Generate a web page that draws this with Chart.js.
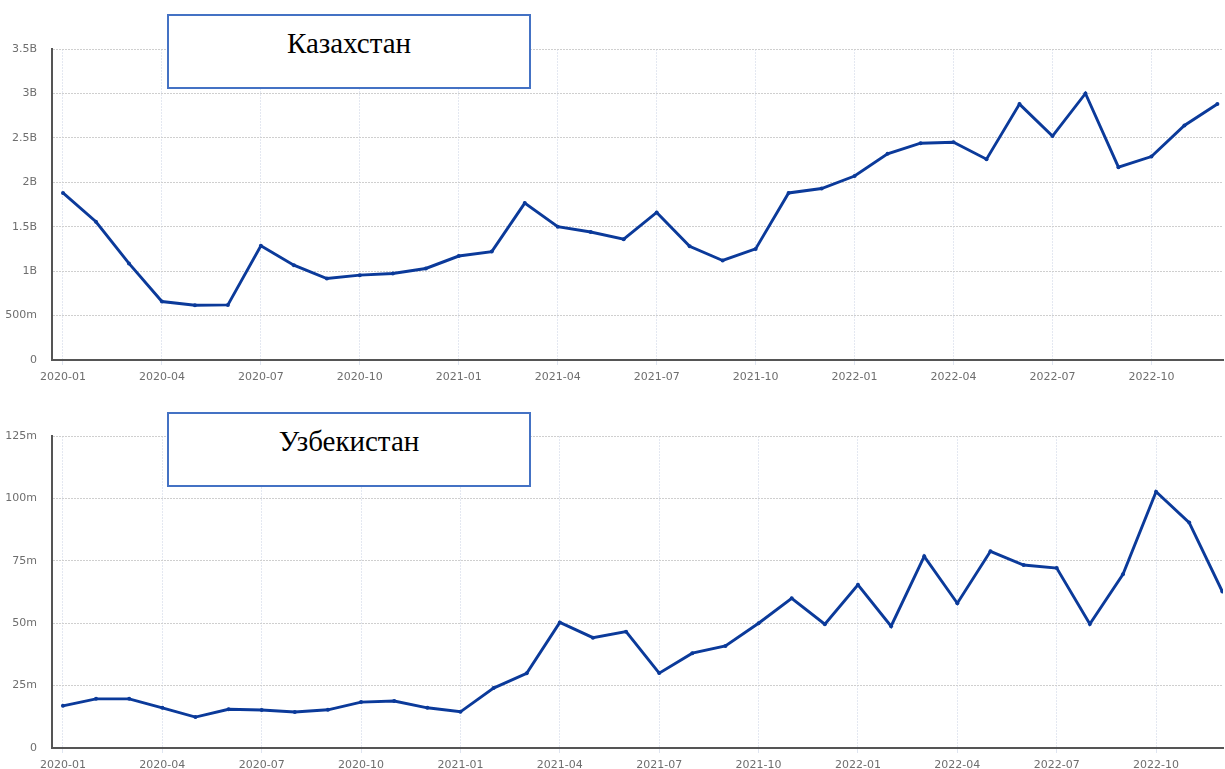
<!DOCTYPE html>
<html>
<head>
<meta charset="utf-8">
<script src="https://cdn.jsdelivr.net/npm/chart.js@4/dist/chart.umd.min.js"></script>
<style>
  html, body { margin: 0; padding: 0; background: #fff; width: 1225px; height: 769px; overflow: hidden; position: relative; }
  canvas { position: absolute; left: 0; }
  #c1 { top: 0; }
  #c2 { top: 385px; }
  .titlebox {
    position: absolute; left: 167px; width: 360px; height: 71px;
    border: 2px solid #4472c4; background: #fff; z-index: 5;
    font-family: "Liberation Serif", "Times New Roman", serif; font-size: 29px; color: #000;
    text-align: center;
  }
  .titlebox span { display: block; margin-top: 11px; line-height: 33px; }
  #t1 { top: 14px; }
  #t2 { top: 412px; }
</style>
</head>
<body>
<canvas id="c1" width="1225" height="400"></canvas>
<canvas id="c2" width="1225" height="400"></canvas>
<div class="titlebox" id="t1"><span>Казахстан</span></div>
<div class="titlebox" id="t2"><span>Узбекистан</span></div>
<script>
const months = ['2020-01','2020-02','2020-03','2020-04','2020-05','2020-06','2020-07','2020-08','2020-09','2020-10','2020-11','2020-12',
  '2021-01','2021-02','2021-03','2021-04','2021-05','2021-06','2021-07','2021-08','2021-09','2021-10','2021-11','2021-12',
  '2022-01','2022-02','2022-03','2022-04','2022-05','2022-06','2022-07','2022-08','2022-09','2022-10','2022-11','2022-12'];
const kazakhstan = [1.88e9,1.556e9,1.087e9,0.658e9,0.617e9,0.62e9,1.285e9,1.067e9,0.917e9,0.955e9,0.974e9,1.03e9,
  1.17e9,1.22e9,1.766e9,1.50e9,1.44e9,1.36e9,1.66e9,1.28e9,1.12e9,1.25e9,1.88e9,1.93e9,
  2.07e9,2.32e9,2.44e9,2.45e9,2.26e9,2.88e9,2.52e9,3.0e9,2.17e9,2.29e9,2.64e9,2.88e9];
const uzbekistan = [16.9e6,19.7e6,19.7e6,16.1e6,12.4e6,15.5e6,15.2e6,14.4e6,15.3e6,18.4e6,18.8e6,16.1e6,
  14.5e6,24.0e6,29.9e6,50.3e6,44.2e6,46.6e6,30.0e6,38.0e6,40.9e6,50.0e6,60.0e6,49.6e6,
  65.4e6,48.8e6,76.8e6,58.0e6,78.8e6,73.3e6,72.1e6,49.7e6,69.6e6,102.7e6,90.3e6,62.7e6];
const tickMonths = ['2020-01','2020-04','2020-07','2020-10','2021-01','2021-04','2021-07','2021-10','2022-01','2022-04','2022-07','2022-10'];
const kzTicks = [0, 0.5e9, 1e9, 1.5e9, 2e9, 2.5e9, 3e9, 3.5e9];
const kzTickLabels = ['0','500m','1B','1.5B','2B','2.5B','3B','3.5B'];
const uzTicks = [0, 25e6, 50e6, 75e6, 100e6, 125e6];
const uzTickLabels = ['0','25m','50m','75m','100m','125m'];

const LINE = '#0b3a9a';
const tickFont = { family: 'DejaVu Sans', size: 11 };

function makeChart(id, values, yTicks, yLabels, cfg) {
  const pts = values.map((v, i) => ({ x: i, y: v }));
  return new Chart(document.getElementById(id), {
    type: 'line',
    data: { datasets: [{ data: pts, borderColor: LINE, backgroundColor: LINE, borderWidth: 2.9,
      pointRadius: 2, pointHoverRadius: 2, pointBorderWidth: 0, tension: 0 }] },
    options: {
      responsive: false, animation: false,
      layout: { padding: { top: cfg.padTop, left: 0, right: 0, bottom: 0 } },
      plugins: { legend: { display: false }, tooltip: { enabled: false } },
      scales: {
        x: {
          type: 'linear', min: cfg.xMin, max: cfg.xMax,
          afterBuildTicks: s => { s.ticks = tickMonths.map(m => ({ value: months.indexOf(m) })); },
          afterFit: s => { s.height = cfg.xHeight; },
          ticks: { autoSkip: false, maxRotation: 0, color: '#6e6e6e', font: tickFont, padding: 6,
            callback: v => months[v] },
          grid: { color: '#e4e8f1', tickColor: '#dfe5f0', tickLength: 5, lineWidth: 1 },
          border: { display: true, color: '#555', width: 2, dash: [2, 1] }
        },
        y: {
          min: 0, max: yTicks[yTicks.length - 1],
          afterBuildTicks: s => { s.ticks = yTicks.map(v => ({ value: v })); },
          afterFit: s => { s.width = 52; },
          ticks: { color: '#6e6e6e', font: tickFont, padding: 15,
            callback: v => yLabels[yTicks.indexOf(v)] },
          grid: { color: '#cfcfcf', drawTicks: false, lineWidth: 1 },
          border: { display: true, color: '#555', width: 2, dash: [2, 1] }
        }
      }
    }
  });
}

makeChart('c1', kazakhstan, kzTicks, kzTickLabels, { padTop: 49, xHeight: 40, xMin: -0.333, xMax: 35.17 });
makeChart('c2', uzbekistan, uzTicks, uzTickLabels, { padTop: 51, xHeight: 37, xMin: -0.33, xMax: 35.02 });
</script>
</body>
</html>
